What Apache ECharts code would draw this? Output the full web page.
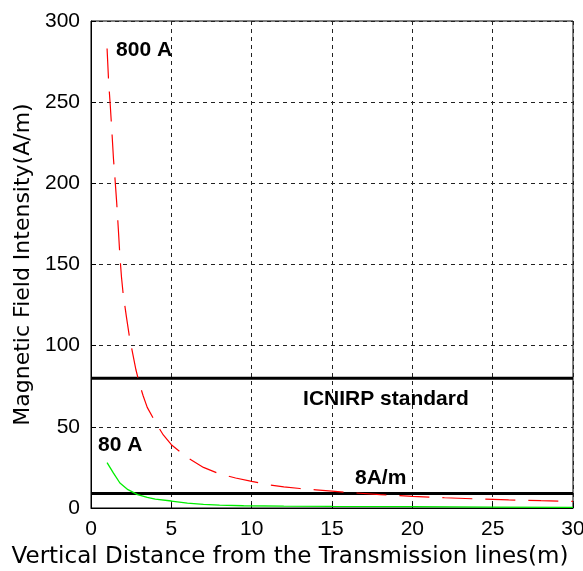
<!DOCTYPE html>
<html>
<head>
<meta charset="utf-8">
<script src="https://cdn.jsdelivr.net/npm/echarts@6/dist/echarts.min.js"></script>
<style>html,body{margin:0;padding:0;background:#fff}#c{width:583px;height:571px}</style>
</head>
<body>
<div id="c"></div>
<script>
// Data
var xTicks = [0, 5, 10, 15, 20, 25, 30];
var yTicks = [0, 50, 100, 150, 200, 250, 300];
var red800X = [1.0, 1.1, 1.2, 1.3, 1.4, 1.5, 1.6, 1.7, 1.8, 1.9, 2.0, 2.2, 2.4, 2.6, 2.8, 3.0, 3.25, 3.5, 4.0, 4.5, 5.0, 6.0, 7.0, 8.0, 9.0, 10, 11, 12, 13, 14, 15, 16, 18, 20, 22, 24, 26, 28, 30];
var red800Y = [283, 262, 248, 232, 215, 202, 188, 172, 155, 142, 132, 118, 105, 95, 85, 77, 69, 62, 53, 45, 39, 31, 25, 21, 18.5, 16.4, 14.4, 13, 12, 11.2, 10.4, 9.6, 8.2, 7.2, 6.3, 5.6, 5.0, 4.5, 4.1];
var green80X = [1.0, 1.4, 1.8, 2.3, 2.9, 3.5, 4.0, 5.0, 6.0, 7.0, 8.0, 9.5, 12, 15, 20, 25, 30];
var green80Y = [28, 21.5, 15.4, 11.3, 8.2, 6.5, 5.5, 4.3, 3.0, 2.2, 1.8, 1.4, 1.2, 1.0, 0.8, 0.6, 0.4];
var icnirpLevel = 80;
var lowLevel = 9;
var labels = [
  {text: '800 A', x: 1.56, y: 282},
  {text: '80 A', x: 0.44, y: 38.6},
  {text: 'ICNIRP standard', x: 13.2, y: 67},
  {text: '8A/m', x: 16.43, y: 18.4}
];

function pairs(xs, ys) { return xs.map(function (x, i) { return [x, ys[i]]; }); }

var chart = echarts.init(document.getElementById('c'), null, {renderer: 'canvas'});
chart.setOption({
  animation: false,
  backgroundColor: '#fff',
  grid: {left: 91, right: 10, top: 21, bottom: 63, containLabel: false, outerBoundsMode: 'none',
         show: true, borderColor: '#000', borderWidth: 1, backgroundColor: 'transparent'},
  xAxis: {
    type: 'value', min: xTicks[0], max: xTicks[xTicks.length - 1], interval: 5,
    name: 'Vertical Distance from the Transmission lines(m)',
    nameLocation: 'middle', nameGap: 38,
    nameTextStyle: {fontFamily: 'DejaVu Sans', fontSize: 23, color: '#000', padding: [0, 84, 0, 0]},
    axisLine: {show: true, lineStyle: {color: '#000', width: 1}},
    axisTick: {show: true, inside: true, length: 5, lineStyle: {color: '#000'}},
    axisLabel: {fontFamily: 'Liberation Sans', fontSize: 21, color: '#000', margin: 11},
    splitLine: {show: true, lineStyle: {color: '#222', type: [4, 4], width: 1}}
  },
  yAxis: {
    type: 'value', min: yTicks[0], max: yTicks[yTicks.length - 1], interval: 50,
    name: 'Magnetic Field Intensity(A/m)',
    nameLocation: 'middle', nameGap: 56,
    nameTextStyle: {fontFamily: 'DejaVu Sans', fontSize: 22, color: '#000'},
    axisLine: {show: true, lineStyle: {color: '#000', width: 1}},
    axisTick: {show: true, inside: true, length: 5, lineStyle: {color: '#000'}},
    axisLabel: {fontFamily: 'Liberation Sans', fontSize: 21, color: '#000', margin: 11},
    splitLine: {show: true, lineStyle: {color: '#222', type: [4, 4], width: 1}}
  },
  series: [
    {type: 'line', data: [[0, icnirpLevel], [30, icnirpLevel]], symbol: 'none', silent: true,
     lineStyle: {color: '#000', width: 3}, z: 2},
    {type: 'line', data: [[0, lowLevel], [30, lowLevel]], symbol: 'none', silent: true,
     lineStyle: {color: '#000', width: 3}, z: 2},
    {type: 'line', data: pairs(red800X, red800Y), symbol: 'none', smooth: false,
     lineStyle: {color: '#ff0000', width: 1.2, type: [30, 13]}, z: 3},
    {type: 'line', data: pairs(green80X, green80Y), symbol: 'none', smooth: false,
     lineStyle: {color: '#00ee00', width: 1.3}, z: 3},
    {type: 'scatter', symbolSize: 0, silent: true, z: 4,
     itemStyle: {opacity: 1},
     data: labels.map(function (l) { return {value: [l.x, l.y], name: l.text}; }),
     label: {show: true, position: 'right', distance: 0, formatter: '{b}',
       fontFamily: 'Liberation Sans', fontWeight: 'bold', fontSize: 21, color: '#000', opacity: 1}}
  ]
});
</script>
</body>
</html>
